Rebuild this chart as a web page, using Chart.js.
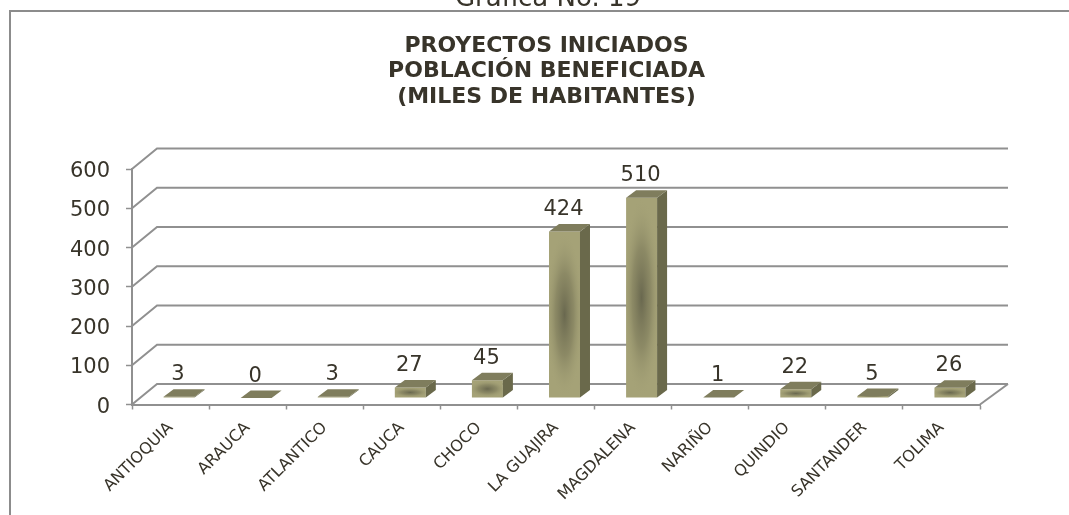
<!DOCTYPE html>
<html>
<head>
<meta charset="utf-8">
<title>Gráfica No. 19</title>
<script src="https://cdn.jsdelivr.net/npm/chart.js@4/dist/chart.umd.min.js"></script>
<style>
html, body { margin: 0; padding: 0; background: #fff; overflow: hidden; }
canvas { display: block; }
</style>
</head>
<body>
<canvas id="grafica" width="1069" height="515"></canvas>
<script>
var departamentos = ["ANTIOQUIA", "ARAUCA", "ATLANTICO", "CAUCA", "CHOCO", "LA GUAJIRA", "MAGDALENA", "NARIÑO", "QUINDIO", "SANTANDER", "TOLIMA"];
var poblacion = [3, 0, 3, 27, 45, 424, 510, 1, 22, 5, 26];
var tituloLineas = ["PROYECTOS INICIADOS", "POBLACIÓN BENEFICIADA", "(MILES DE HABITANTES)"];
var subtitulo = "Gráfica No. 19";

var fuente = '"DejaVu Sans", Verdana, sans-serif';
var colorTexto = "#38342a";
var colorLinea = "#909090";

// the bars stand inside the floor, so they are pushed off the front plane
var barraDx = 8.5, barraDy = -6.5;
var fondoDy = -20.5;

var escena3d = {
    id: "escena3d",
    beforeDraw: function (chart) {
        var ctx = chart.ctx;
        ctx.save();
        // marco
        ctx.strokeStyle = "#8c8c8c";
        ctx.lineWidth = 2;
        ctx.beginPath();
        ctx.moveTo(10, 515);
        ctx.lineTo(10, 11);
        ctx.lineTo(1069, 11);
        ctx.stroke();
        ctx.fillStyle = colorTexto;
        ctx.textAlign = "center";
        ctx.textBaseline = "alphabetic";
        // titulo de la pagina, cortado arriba
        ctx.font = "26px " + fuente;
        ctx.fillText(subtitulo, 548, 6);
        // titulo de la grafica
        ctx.font = "bold 22px " + fuente;
        tituloLineas.forEach(function (linea, i) {
            ctx.fillText(linea, 546.5, 51.5 + i * 25.5);
        });
        // numeros del eje y, la etiqueta nativa queda muy arriba de su marca
        var y = chart.scales.y;
        ctx.font = "21px " + fuente;
        ctx.textAlign = "right";
        y.ticks.forEach(function (t) {
            ctx.fillText(String(t.value), 110, y.getPixelForValue(t.value) + 8);
        });
        ctx.restore();
    },
    beforeDatasetsDraw: function (chart) {
        var ctx = chart.ctx;
        var y = chart.scales.y, x = chart.scales.x;
        ctx.save();
        ctx.strokeStyle = colorLinea;
        ctx.lineWidth = 2;
        y.ticks.forEach(function (t) {
            var py = y.getPixelForValue(t.value);
            ctx.beginPath();
            ctx.moveTo(x.left, py);
            ctx.lineTo(x.left + 25, py + fondoDy);
            ctx.lineTo(x.right + 28, py + fondoDy);
            ctx.stroke();
        });
        // borde derecho del piso
        var py0 = y.getPixelForValue(0);
        ctx.beginPath();
        ctx.moveTo(x.right, py0);
        ctx.lineTo(x.right + 28, py0 + fondoDy);
        ctx.stroke();
        ctx.restore();
        ctx.save();
        ctx.translate(barraDx, barraDy);
    },
    afterDatasetsDraw: function (chart) {
        var ctx = chart.ctx;
        var barras = chart.getDatasetMeta(0).data;
        var prof = 10, alto = 7.5;
        barras.forEach(function (b) {
            var izq = b.x - b.width / 2, der = b.x + b.width / 2;
            var arriba = b.y, abajo = b.base;
            var h = abajo - arriba;
            // sombra central del frente
            if (h > 1) {
                ctx.save();
                ctx.beginPath();
                ctx.rect(izq, arriba, b.width, h);
                ctx.clip();
                ctx.translate(b.x, arriba + h / 2);
                ctx.scale(b.width / 2 * 1.2, h / 2);
                var g = ctx.createRadialGradient(0, 0, 0, 0, 0, 1);
                g.addColorStop(0, "rgba(95,94,72,0.85)");
                g.addColorStop(0.5, "rgba(110,108,80,0.45)");
                g.addColorStop(1, "rgba(165,162,119,0)");
                ctx.fillStyle = g;
                ctx.fillRect(-1, -1, 2, 2);
                ctx.restore();
            }
            // cara lateral
            ctx.fillStyle = "#6a694b";
            ctx.beginPath();
            ctx.moveTo(der, arriba);
            ctx.lineTo(der + prof, arriba - alto);
            ctx.lineTo(der + prof, abajo - alto);
            ctx.lineTo(der, abajo);
            ctx.closePath();
            ctx.fill();
            // cara superior
            ctx.fillStyle = "#7f7d5d";
            ctx.beginPath();
            ctx.moveTo(izq, arriba);
            ctx.lineTo(izq + prof, arriba - alto);
            ctx.lineTo(der + prof, arriba - alto);
            ctx.lineTo(der, arriba);
            ctx.closePath();
            ctx.fill();
        });
        ctx.restore();

        // etiquetas de datos
        ctx.save();
        ctx.fillStyle = colorTexto;
        ctx.font = "21px " + fuente;
        ctx.textAlign = "center";
        ctx.textBaseline = "alphabetic";
        barras.forEach(function (b, i) {
            ctx.fillText(String(poblacion[i]), b.x + barraDx - 1, b.y + barraDy - 16.5);
        });
        ctx.restore();
    }
};

new Chart(document.getElementById("grafica"), {
    type: "bar",
    data: {
        labels: departamentos,
        datasets: [{
            data: poblacion,
            backgroundColor: "#a5a277",
            borderWidth: 0,
            categoryPercentage: 1,
            barPercentage: 0.402
        }]
    },
    plugins: [escena3d],
    options: {
        responsive: false,
        animation: false,
        events: [],
        layout: { padding: { top: 169, left: 0, right: 89, bottom: 0 } },
        plugins: {
            legend: { display: false },
            tooltip: { enabled: false },
            title: { display: false }
        },
        scales: {
            x: {
                offset: true,
                afterFit: function (scale) { scale.height = 110.5; },
                border: { color: colorLinea, width: 2 },
                grid: { offset: true, drawOnChartArea: false, tickLength: 5, tickColor: colorLinea, tickWidth: 1.5 },
                ticks: {
                    color: colorTexto,
                    font: { family: fuente, size: 16 },
                    minRotation: 45,
                    maxRotation: 45,
                    autoSkip: false,
                    padding: 9
                }
            },
            y: {
                min: 0,
                max: 600,
                afterFit: function (scale) { scale.width = 132; },
                border: { color: colorLinea, width: 2 },
                grid: { drawOnChartArea: false, tickLength: 6, tickColor: colorLinea, tickWidth: 1.5 },
                ticks: {
                    stepSize: 100,
                    display: false
                }
            }
        }
    }
});
</script>
</body>
</html>
